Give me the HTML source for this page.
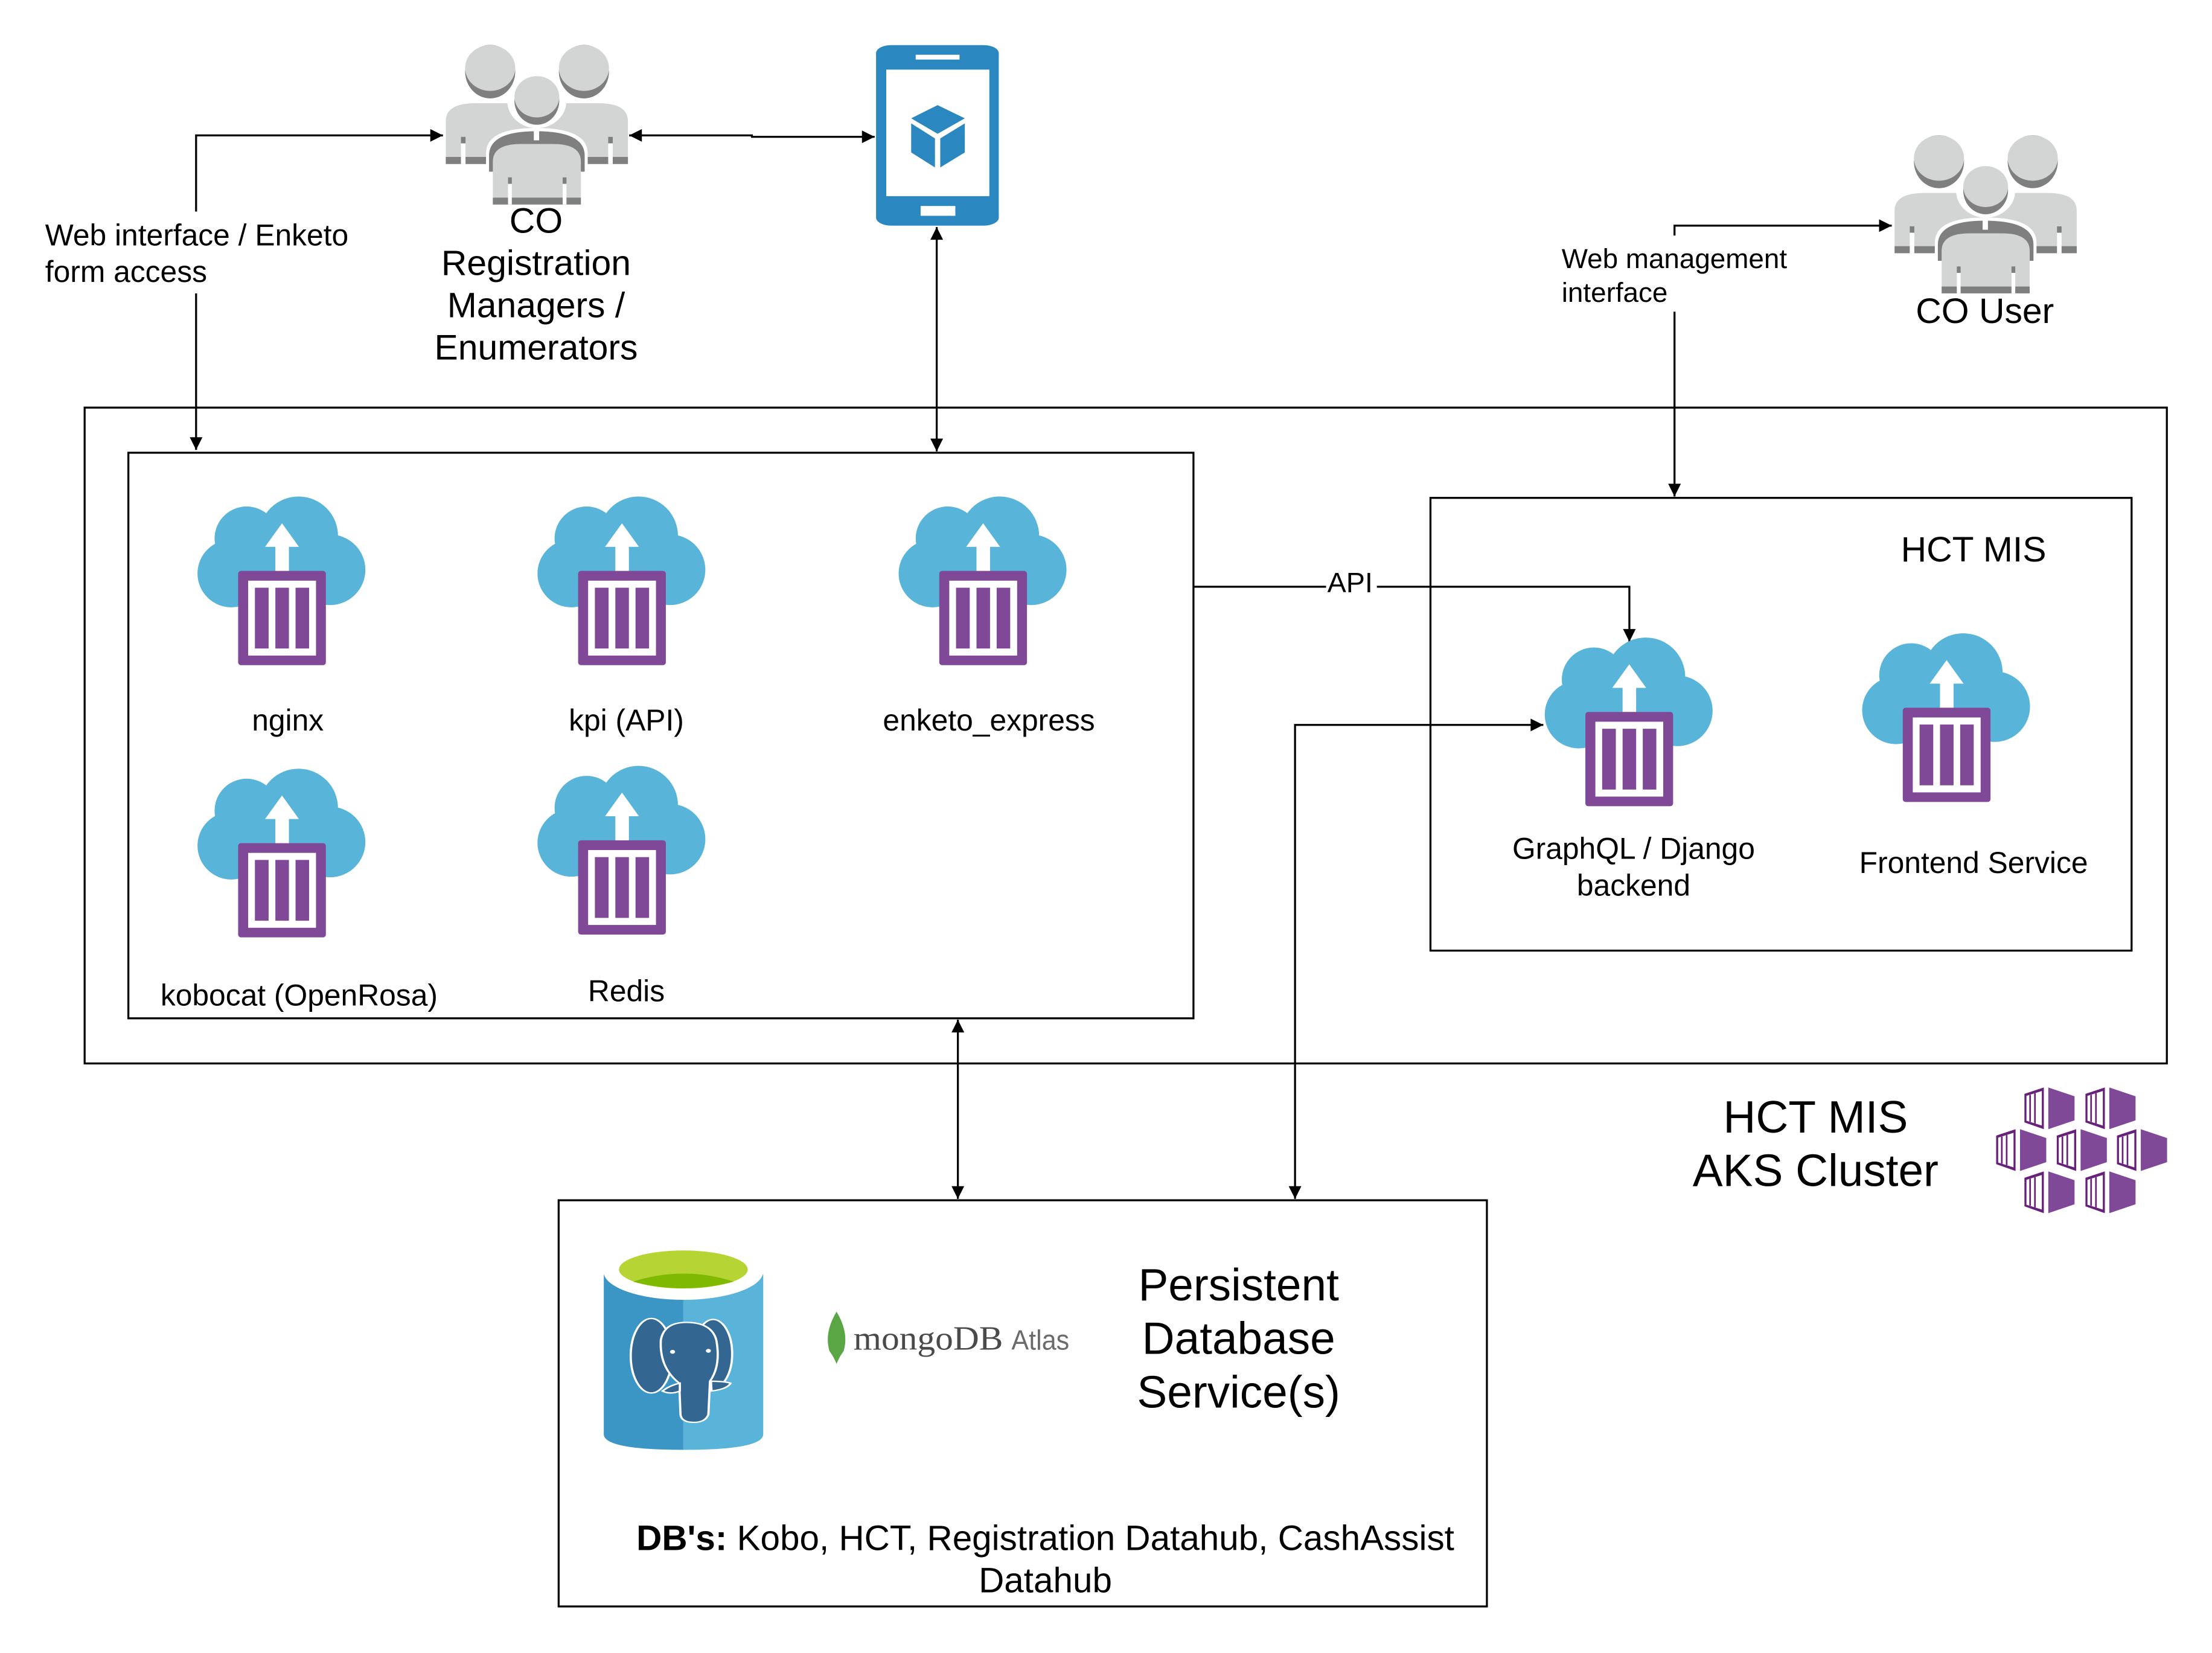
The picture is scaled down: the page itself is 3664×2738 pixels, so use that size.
<!DOCTYPE html>
<html><head><meta charset="utf-8"><style>
html,body{margin:0;padding:0;background:#fff;}
svg{display:block;}
text{font-family:"Liberation Sans",sans-serif;fill:#000;}
</style></head><body>
<svg width="3664" height="2738" viewBox="0 0 1568 1172" preserveAspectRatio="none" xmlns="http://www.w3.org/2000/svg">
<defs>
<marker id="ah" viewBox="0 0 10 10" refX="10" refY="5" markerWidth="10" markerHeight="9" markerUnits="userSpaceOnUse" orient="auto-start-reverse"><path d="M0,0 L10,5 L0,10 Z" fill="#000"/></marker>
<g id="cloud">
 <g fill="#59b4d9">
  <circle cx="71.6" cy="28" r="28"/><circle cx="34.8" cy="29.8" r="22.7"/><circle cx="24" cy="54.6" r="24"/><circle cx="94" cy="52" r="25"/>
  <rect x="24" y="35" width="70" height="41.6"/><rect x="30" y="25" width="50" height="20"/>
 </g>
 <path d="M59.9,19 L71.9,35.7 L64.8,35.7 L64.8,53 L55.2,53 L55.2,35.7 L47.9,35.7 Z" fill="#fff"/>
 <rect x="28.8" y="52.8" width="62.2" height="66.8" rx="2" fill="#804998"/>
 <rect x="35.9" y="59.7" width="48.1" height="53.1" fill="#fff"/>
 <g fill="#804998"><rect x="40.7" y="64.7" width="9.7" height="43.1"/><rect x="55.2" y="64.7" width="9.6" height="43.1"/><rect x="69.5" y="64.7" width="9.6" height="43.1"/></g>
</g>
<g id="people">
 <ellipse cx="179" cy="206" rx="66" ry="132" fill="#7f7f7f"/><ellipse cx="179" cy="188" rx="66" ry="113" fill="#d3d4d4"/>
 <ellipse cx="426" cy="206" rx="66" ry="132" fill="#7f7f7f"/><ellipse cx="426" cy="188" rx="66" ry="113" fill="#d3d4d4"/>
 <path d="M62,662 V450 Q62,362 140,362 H465 Q542,362 542,450 V662 Z" fill="#d3d4d4"/>
 <rect x="62" y="627" width="480" height="35" fill="#7f7f7f"/>
 <rect x="102" y="528" width="12" height="32" fill="#7f7f7f"/><rect x="102" y="560" width="12" height="102" fill="#fff"/>
 <rect x="490" y="528" width="12" height="32" fill="#7f7f7f"/><rect x="490" y="560" width="12" height="102" fill="#fff"/>
 <ellipse cx="302" cy="350" rx="78" ry="135" fill="#fff"/>
 <path d="M168,862 V610 Q168,484 300,484 Q436,484 436,610 V862 Z" fill="#fff"/>
 <ellipse cx="302" cy="350" rx="59" ry="118" fill="#7f7f7f"/><ellipse cx="302" cy="330" rx="59" ry="102" fill="#d3d4d4"/>
 <path d="M176,700 V620 Q176,500 300,500 Q428,500 428,620 V700 Z" fill="#7f7f7f"/>
 <rect x="294" y="470" width="14" height="75" fill="#fff"/>
 <path d="M186,862 V650 Q186,563 260,563 H345 Q418,563 418,650 V862 Z" fill="#d3d4d4"/>
 <rect x="186" y="828" width="232" height="34" fill="#7f7f7f"/>
 <rect x="226" y="728" width="10" height="32" fill="#7f7f7f"/><rect x="226" y="760" width="10" height="102" fill="#fff"/>
 <rect x="370" y="728" width="10" height="32" fill="#7f7f7f"/><rect x="370" y="760" width="10" height="102" fill="#fff"/>
</g>
<g id="cube">
 <polygon points="222,100 318,68 318,276 222,242" fill="#68217a"/>
 <polygon points="232,110 308,86 308,258 232,234" fill="#fff"/>
 <polygon points="246,106 254,104 254,240 246,238" fill="#68217a"/>
 <polygon points="270,98 278,96 278,248 270,246" fill="#68217a"/>
 <polygon points="340,68 470,112 470,232 340,276" fill="#804998"/>
</g>
</defs>

<g fill="none" stroke="#000" stroke-width="1.4">
 <rect x="60" y="289" width="1476" height="465"/>
 <rect x="91" y="321" width="755" height="401"/>
 <rect x="1014" y="353" width="497" height="321"/>
 <rect x="396" y="851" width="658" height="288"/>
</g>

<g fill="none" stroke="#000" stroke-width="1.4">
 <path d="M139,319 V96 H314" marker-start="url(#ah)" marker-end="url(#ah)"/>
 <path d="M446,96 H533 V97 H620" marker-start="url(#ah)" marker-end="url(#ah)"/>
 <path d="M664,161 V320" marker-start="url(#ah)" marker-end="url(#ah)"/>
 <path d="M846,416 H1155 V455" marker-end="url(#ah)"/>
 <path d="M679,723 V850" marker-start="url(#ah)" marker-end="url(#ah)"/>
 <path d="M918,850 V514 H1094" marker-start="url(#ah)" marker-end="url(#ah)"/>
 <path d="M1187,352 V160 H1341" marker-start="url(#ah)" marker-end="url(#ah)"/>
</g>
<rect x="28" y="150" width="224" height="58" fill="#fff"/>
<rect x="1102" y="167" width="172" height="54" fill="#fff"/>
<rect x="940" y="403" width="36" height="22" fill="#fff"/>

<text x="32" y="174" font-size="21.3">Web interface / Enketo</text>
<text x="32" y="200" font-size="21.3">form access</text>
<text x="1107" y="190" font-size="19.6">Web management</text>
<text x="1107" y="214" font-size="19.6">interface</text>
<text x="957" y="420" font-size="20" text-anchor="middle">API</text>

<use href="#people" transform="translate(316,32) scale(0.269,0.1436) translate(-62,-75)"/>
<use href="#people" transform="translate(1343,96) scale(0.269,0.1423) translate(-62,-75)"/>
<g font-size="25.2" text-anchor="middle">
 <text x="380" y="165">CO</text><text x="380" y="195">Registration</text><text x="380" y="225">Managers /</text><text x="380" y="255">Enumerators</text>
 <text x="1407" y="229">CO User</text>
</g>

<g transform="translate(621,32) scale(0.2677,0.1422) translate(-1200,-75)">
 <rect x="1200" y="75" width="325" height="900" rx="40" fill="#2a87c0"/>
 <rect x="1227" y="197" width="273" height="631" fill="#fff"/>
 <rect x="1305" y="123" width="116" height="24" fill="#fff"/>
 <rect x="1318" y="877" width="92" height="49" fill="#fff"/>
 <polygon points="1363,374 1435,440 1363,517 1293,440" fill="#2a87c0"/>
 <polygon points="1293,465 1356,540 1356,685 1293,610" fill="#2a87c0"/>
 <polygon points="1435,465 1370,540 1370,685 1435,610" fill="#2a87c0"/>
</g>

<use href="#cloud" x="140" y="352"/>
<use href="#cloud" x="381" y="352"/>
<use href="#cloud" x="637" y="352"/>
<use href="#cloud" x="140" y="545"/>
<use href="#cloud" x="381" y="543"/>
<use href="#cloud" x="1095" y="452"/>
<use href="#cloud" x="1320" y="449"/>

<g font-size="21.3" text-anchor="middle">
 <text x="204" y="518">nginx</text>
 <text x="444" y="518">kpi (API)</text>
 <text x="701" y="518">enketo_express</text>
 <text x="212" y="713">kobocat (OpenRosa)</text>
 <text x="444" y="710">Redis</text>
 <text x="1158" y="609">GraphQL / Django</text>
 <text x="1158" y="635">backend</text>
 <text x="1399" y="619">Frontend Service</text>
</g>
<text x="1399" y="398" font-size="25.2" text-anchor="middle">HCT MIS</text>

<g font-size="32" text-anchor="middle"><text x="1287" y="803">HCT MIS</text><text x="1287" y="841">AKS Cluster</text></g>
<g transform="translate(1415,771) scale(0.1432,0.1424) translate(-82,-68)">
 <use href="#cube"/>
 <use href="#cube" x="302"/>
 <use href="#cube" x="-140" y="208"/>
 <use href="#cube" x="160" y="208"/>
 <use href="#cube" x="458" y="208"/>
 <use href="#cube" y="418"/>
 <use href="#cube" x="302" y="418"/>
</g>

<g transform="translate(428,882) scale(0.2247,0.139) translate(-40,-70)">
 <path d="M40,225 V1040 Q40,1120 291,1120 V225 Z" fill="#3b96c6"/>
 <path d="M291,225 V1120 Q543,1120 543,1040 V225 Z" fill="#5ab3d9"/>
 <ellipse cx="291" cy="210" rx="252" ry="145" fill="#fff"/>
 <ellipse cx="291" cy="200" rx="203" ry="97" fill="#b6d433"/>
 <path d="M132,262 Q291,180 450,262 Q291,330 132,262 Z" fill="#7fba00"/>
 <g fill="#336791" stroke="#fff" stroke-width="7">
  <ellipse cx="190" cy="640" rx="65" ry="190"/>
  <ellipse cx="385" cy="630" rx="60" ry="175"/>
  <path d="M220,560 Q230,470 300,470 Q380,470 395,560 Q410,690 375,770 L370,940 Q360,980 325,980 Q285,980 282,940 L278,780 Q215,700 220,560 Z"/>
  <path d="M378,770 Q420,770 440,780 Q430,810 380,820 Z"/>
  <path d="M280,780 Q250,790 225,820 Q250,840 280,820 Z"/>
 </g>
 <ellipse cx="257" cy="620" rx="8" ry="10" fill="#fff"/>
 <ellipse cx="370" cy="615" rx="8" ry="10" fill="#fff"/>
</g>

<path d="M593,930 Q602,945 598,958 Q595,962 593,967 Q591,962 588,958 Q584,945 593,930 Z" fill="#5aa544"/>
<text x="605" y="957" font-size="24" textLength="106" lengthAdjust="spacingAndGlyphs" style="fill:#4a4a4a;font-family:'Liberation Serif',serif">mongoDB</text>
<text x="717" y="957" font-size="20" textLength="41" lengthAdjust="spacingAndGlyphs" style="fill:#6b6b6b">Atlas</text>

<g font-size="32" text-anchor="middle"><text x="878" y="922">Persistent</text><text x="878" y="960">Database</text><text x="878" y="998">Service(s)</text></g>
<text x="741" y="1099" font-size="25" text-anchor="middle"><tspan font-weight="bold">DB's:</tspan> Kobo, HCT, Registration Datahub, CashAssist</text>
<text x="741" y="1129" font-size="25" text-anchor="middle">Datahub</text>
</svg>
</body></html>
